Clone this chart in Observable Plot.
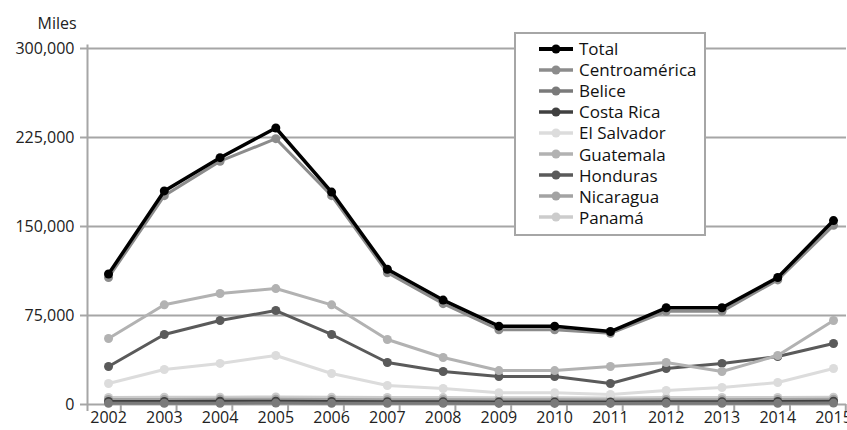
<!DOCTYPE html>
<html>
<head>
<meta charset="utf-8">
<script src="https://cdn.jsdelivr.net/npm/d3@7"></script>
<script src="https://cdn.jsdelivr.net/npm/@observablehq/plot@0.6"></script>
<style>
  body { margin: 0; background: #fff; font-family: "Open Sans", sans-serif; }
  #wrap { position: relative; width: 847px; height: 430px; }
  #legend { position: absolute; left: 514px; top: 32px; width: 188px; height: 200px;
    border: 2px solid #a6a6a6; background: #fff; box-sizing: content-box; }
  .row { position: absolute; left: 22px; height: 21px; display: flex; align-items: center;
    font-size: 17px; color: #111; white-space: nowrap; }
  .row svg { margin-right: 5px; }
</style>
</head>
<body>
<div id="wrap"></div>
<script>
const years = [2002, 2003, 2004, 2005, 2006, 2007, 2008, 2009, 2010, 2011, 2012, 2013, 2014, 2015];
const seriesNames = ["Total", "Centroamérica", "Belice", "Costa Rica", "El Salvador", "Guatemala", "Honduras", "Nicaragua", "Panamá"];
const total       = [110000, 180000, 208000, 233000, 179000, 114000, 88000, 66000, 66000, 61500, 81500, 81500, 107000, 155000];
const centroam    = [107000, 176000, 205000, 224000, 176000, 111000, 85000, 63000, 63000, 60000, 78500, 78500, 105000, 151000];
const belice      = [1000, 1100, 1100, 1200, 1100, 1000, 1000, 900, 900, 900, 1000, 1000, 1100, 1200];
const costaRica   = [2500, 2600, 2700, 2800, 2600, 2400, 2300, 2200, 2200, 2100, 2300, 2400, 2500, 2700];
const elSalvador  = [17700, 29500, 34600, 41300, 26100, 16000, 13500, 10000, 10000, 8400, 11800, 14300, 18500, 30300];
const guatemala   = [55600, 84000, 93500, 97700, 84000, 54800, 39600, 28600, 28600, 32000, 35400, 27800, 41300, 70800];
const honduras    = [32000, 59000, 70800, 79200, 59000, 35400, 27800, 23600, 23600, 17700, 30300, 34600, 40400, 51400];
const nicaragua   = [4200, 4300, 4400, 4500, 4300, 4100, 4000, 3900, 3900, 3800, 4000, 4100, 4200, 4400];
const panama      = [6000, 6100, 6200, 6300, 6100, 5900, 5800, 5600, 5600, 5500, 5800, 5900, 6000, 6200];
const yTicks = [0, 75000, 150000, 225000, 300000];
const yTitle = "Miles";

const seriesValues = [total, centroam, belice, costaRica, elSalvador, guatemala, honduras, nicaragua, panama];
const colors = ["#000000", "#8c8c8c", "#7a7a7a", "#404040", "#dcdcdc", "#b2b2b2", "#5a5a5a", "#a3a3a3", "#cccccc"];
const widths = [3.5, 3, 3, 3, 3, 3, 3, 3, 3];

const rows = [];
seriesNames.forEach((s, i) => years.forEach((y, j) => rows.push({series: s, idx: i, year: y, value: seriesValues[i][j]})));

const x0 = d3.min(years) - 0.377;
const marks = [
  Plot.ruleY(yTicks, {stroke: "#a6a6a6", strokeWidth: 2}),
  Plot.axisY({ticks: yTicks, tickFormat: d => d3.format(",")(d), tickSize: 7, tickPadding: 6, stroke: "#a6a6a6", strokeWidth: 2, label: null, fontSize: 16, color: "#222"}),
  Plot.axisX({ticks: years, tickFormat: d => String(d), tickSize: 0, tickPadding: 7, label: null, fontSize: 16, color: "#222"}),
  Plot.ruleX(years.map(d => d + 0.22), {y1: 0, y2: -6000, stroke: "#a6a6a6", strokeWidth: 2}),
  Plot.ruleX([x0], {y1: -6000, y2: 303000, stroke: "#a6a6a6", strokeWidth: 2}),
  Plot.text([yTitle], {frameAnchor: "top-left", textAnchor: "start", dx: -50, dy: -31, fontSize: 16, fill: "#222"})
];
for (let i = seriesNames.length - 1; i >= 0; i--) {
  const data = rows.filter(r => r.idx === i);
  marks.push(Plot.line(data, {x: "year", y: "value", stroke: colors[i], strokeWidth: widths[i]}));
  marks.push(Plot.dot(data, {x: "year", y: "value", fill: colors[i], r: 4.5}));
}

const chart = Plot.plot({
  width: 847, height: 430,
  marginLeft: 87, marginRight: 1, marginTop: 48, marginBottom: 26,
  style: {fontFamily: "Open Sans", fontSize: "16px", background: "#fff"},
  x: {domain: [x0, d3.max(years) + 0.233]},
  y: {domain: [0, 300000]},
  marks
});
const wrap = document.getElementById("wrap");
wrap.appendChild(chart);

const legend = document.createElement("div");
legend.id = "legend";
seriesNames.forEach((s, i) => {
  const r = document.createElement("div");
  r.className = "row";
  r.style.top = (4 + i * 21.1) + "px";
  r.innerHTML = `<svg width="36" height="12"><line x1="1" x2="35" y1="6" y2="6" stroke="${colors[i]}" stroke-width="${widths[i] + 0.5}"/><circle cx="18" cy="6" r="4.5" fill="${colors[i]}"/></svg><span>${s}</span>`;
  legend.appendChild(r);
});
wrap.appendChild(legend);
</script>
</body>
</html>
